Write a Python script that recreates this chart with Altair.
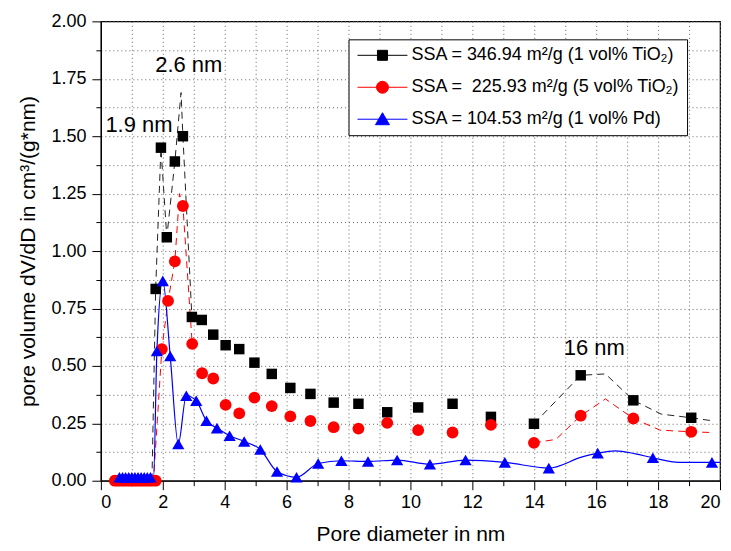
import altair as alt
import pandas as pd

# ---------------- data ----------------
series_names = [
    "SSA = 346.94 m²/g (1 vol% TiO₂)",
    "SSA = \u00a0225.93 m²/g (5 vol% TiO₂)",
    "SSA = 104.53 m²/g (1 vol% Pd)",
]
series_colors = ["#000000", "#ff0000", "#0000ff"]
legend_paths = [
    "M-5,0H5M-1,-1H1V1H-1Z",
    "M-5,0H5M-1.2,0A1.2,1.2,0,1,1,1.2,0A1.2,1.2,0,1,1,-1.2,0Z",
    "M-5,0H5M0,-1.3L1.4,1.1H-1.4Z",
]

# markers
black_x = [0.55, 0.65, 0.75, 0.85, 0.95, 1.05, 1.15, 1.25, 1.35, 1.45, 1.55, 1.65,
           1.77, 1.94, 2.13, 2.39, 2.65, 2.94, 3.26, 3.63, 4.03, 4.47, 4.96, 5.52,
           6.12, 6.77, 7.52, 8.32, 9.25, 10.25, 11.36, 12.6, 13.99, 15.5, 17.2, 19.07]
black_y = [0, 0, 0, 0, 0, 0, 0, 0, 0, 0, 0, 0,
           0.835, 1.45, 1.06, 1.39, 1.50, 0.713, 0.70, 0.636, 0.59, 0.573, 0.514, 0.465,
           0.404, 0.378, 0.34, 0.335, 0.298, 0.319, 0.335, 0.278, 0.248, 0.459, 0.35, 0.274]

red_x = [0.45, 0.55, 0.65, 0.75, 0.85, 0.95, 1.05, 1.15, 1.25, 1.35, 1.45, 1.55, 1.65, 1.77,
         1.97, 2.17, 2.39, 2.65, 2.95, 3.27, 3.63, 4.03, 4.47, 4.96, 5.52, 6.12,
         6.77, 7.52, 8.32, 9.25, 10.25, 11.36, 12.6, 13.99, 15.5, 17.2, 19.07]
red_y = [0, 0, 0, 0, 0, 0, 0, 0, 0, 0, 0, 0, 0, 0,
         0.573, 0.783, 0.955, 1.196, 0.596, 0.468, 0.445, 0.33, 0.293, 0.362, 0.325, 0.28,
         0.26, 0.233, 0.227, 0.252, 0.22, 0.21, 0.243, 0.165, 0.283, 0.271, 0.213]

blue_x = [0.6, 0.7, 0.8, 0.9, 1.0, 1.1, 1.2, 1.3, 1.4, 1.5, 1.6,
          1.81, 2.0, 2.24, 2.5, 2.76, 3.08, 3.41, 3.75, 4.16, 4.63, 5.15, 5.69, 6.32,
          7.02, 7.77, 8.63, 9.57, 10.63, 11.78, 13.05, 14.47, 16.05, 17.83, 19.74]
blue_y = [0.015, 0.015, 0.015, 0.015, 0.015, 0.015, 0.015, 0.015, 0.015, 0.015, 0.015,
          0.565, 0.87, 0.543, 0.16, 0.37, 0.348, 0.261, 0.229, 0.196, 0.171, 0.136, 0.04, 0.015,
          0.075, 0.087, 0.084, 0.09, 0.072, 0.09, 0.08, 0.055, 0.12, 0.1, 0.08]

# lines (visible parts of the dashed curves)
black_line_x = [0.5, 1.65, 1.77, 1.94, 2.13, 2.39, 2.59, 2.65, 2.94,
                13.99, 15.5, 16.3, 17.2, 18.1, 19.07, 19.8]
black_line_y = [0, 0, 0.835, 1.45, 1.06, 1.39, 1.69, 1.50, 0.713,
                0.248, 0.459, 0.465, 0.35, 0.29, 0.274, 0.26]
black_line_seg = [1, 1, 1, 1, 1, 1, 1, 1, 1, 2, 2, 2, 2, 2, 2, 2]

red_line_x = [0.45, 1.7, 1.97, 2.17, 2.39, 2.54, 2.65, 2.95,
              13.99, 14.7, 15.5, 16.3, 17.2, 18.07, 19.07, 19.7]
red_line_y = [0, 0, 0.573, 0.783, 0.955, 1.25, 1.196, 0.596,
              0.165, 0.18, 0.283, 0.356, 0.271, 0.22, 0.213, 0.21]
red_line_seg = [1, 1, 1, 1, 1, 1, 1, 1, 2, 2, 2, 2, 2, 2, 2, 2]

blue_line_x = [0.5, 1.7, 1.81, 2.0, 2.24, 2.5, 2.76, 3.08, 3.41, 3.75, 4.16, 4.63, 5.15,
               5.69, 6.32, 7.02, 7.77, 8.63, 9.57, 10.63, 11.78, 13.05, 14.47, 15.55,
               16.05, 16.62, 17.27, 17.83, 18.67, 19.74, 20.0]
blue_line_y = [0, 0.01, 0.565, 0.87, 0.543, 0.16, 0.37, 0.348, 0.261, 0.229, 0.196, 0.171, 0.136,
               0.04, 0.015, 0.075, 0.087, 0.084, 0.09, 0.072, 0.09, 0.08, 0.055, 0.104,
               0.12, 0.13, 0.117, 0.1, 0.08, 0.08, 0.08]

ann_x = [2.84, 1.23, 15.94]
ann_y = [1.81, 1.55, 0.576]
ann_text = ["2.6 nm", "1.9 nm", "16 nm"]

x_ticks = [0, 1, 2, 3, 4, 5, 6, 7, 8, 9, 10, 11, 12, 13, 14, 15, 16, 17, 18, 19, 20]
y_ticks = [0, 0.125, 0.25, 0.375, 0.5, 0.625, 0.75, 0.875, 1.0, 1.125, 1.25, 1.375,
           1.5, 1.625, 1.75, 1.875, 2.0]

FONT = "Liberation Sans"

# ---------------- encodings ----------------
xenc = alt.X(
    "x:Q",
    scale=alt.Scale(domain=[0, 20], nice=False, zero=False),
    axis=alt.Axis(
        values=x_ticks,
        labelExpr="datum.value % 2 === 0 ? datum.label : ''",
        tickSize={"condition": {"test": "datum.value % 2 === 0", "value": 9}, "value": 5},
        title="Pore diameter in nm",
        titlePadding=12,
        labelPadding=4,
    ),
)
yenc = alt.Y(
    "y:Q",
    scale=alt.Scale(domain=[0, 2], nice=False),
    axis=alt.Axis(
        values=y_ticks,
        format=".2f",
        labelExpr="(datum.value * 4) % 1 === 0 ? datum.label : ''",
        tickSize={"condition": {"test": "(datum.value * 4) % 1 === 0", "value": 9}, "value": 5},
        title="pore volume dV/dD in cm³/(g*nm)",
        titlePadding=12,
        labelPadding=6,
    ),
)

def df_xy(xs, ys, seg=None):
    d = {"x": xs, "y": ys}
    if seg is not None:
        d["seg"] = seg
    return pd.DataFrame(d)

black_line = alt.Chart(df_xy(black_line_x, black_line_y, black_line_seg)).mark_line(
    color="#222222", strokeWidth=1, strokeDash=[7, 5]
).encode(x=xenc, y=yenc, detail="seg:N", order="x:Q")

red_line = alt.Chart(df_xy(red_line_x, red_line_y, red_line_seg)).mark_line(
    color="#ff0000", strokeWidth=1, strokeDash=[7, 5]
).encode(x=xenc, y=yenc, detail="seg:N", order="x:Q")

blue_line = alt.Chart(df_xy(blue_line_x, blue_line_y)).mark_line(
    color="#0000ff", strokeWidth=1.2, interpolate="monotone"
).encode(x=xenc, y=yenc)

black_pts = alt.Chart(df_xy(black_x, black_y)).mark_point(
    shape="square", filled=True, color="#000000", size=110, opacity=1
).encode(x=xenc, y=yenc)
red_pts = alt.Chart(df_xy(red_x, red_y)).mark_point(
    shape="circle", filled=True, color="#ff0000", size=140, opacity=1
).encode(x=xenc, y=yenc)
blue_pts = alt.Chart(df_xy(blue_x, blue_y)).mark_point(
    shape="triangle-up", filled=True, color="#0000ff", size=150, opacity=1
).encode(x=xenc, y=yenc)

ann = alt.Chart(pd.DataFrame({"x": ann_x, "y": ann_y, "t": ann_text})).mark_text(
    font=FONT, fontSize=22, color="black", align="center", baseline="middle"
).encode(x=xenc, y=yenc, text="t:N")

legend_def = alt.Legend(
    title=None,
    orient="none",
    legendX=248,
    legendY=18,
    strokeColor="black",
    fillColor="white",
    padding=7,
    rowPadding=14,
    labelFont=FONT,
    labelFontSize=18,
    labelColor="black",
    symbolSize=100,
    symbolOffset=18,
    labelOffset=20,
    symbolStrokeWidth=1,
    labelLimit=400,
)
leg_df = pd.DataFrame({"series": series_names, "x": [0, 0, 0], "y": [0, 0, 0]})
legend_layer = alt.Chart(leg_df).transform_filter("false").mark_point(
    opacity=1, filled=True
).encode(
    x=xenc,
    y=yenc,
    shape=alt.Shape("series:N", scale=alt.Scale(domain=series_names, range=legend_paths), legend=legend_def),
    fill=alt.Fill("series:N", scale=alt.Scale(domain=series_names, range=series_colors), legend=legend_def),
    stroke=alt.Stroke("series:N", scale=alt.Scale(domain=series_names, range=series_colors), legend=legend_def),
)

chart = alt.layer(
    black_line, red_line, blue_line, black_pts, red_pts, blue_pts, ann, legend_layer
).properties(
    width=620, height=460,
    padding={"left": 9, "top": 4, "right": 0, "bottom": 2},
).configure_view(
    stroke="black", strokeWidth=1.2
).configure_axis(
    labelFont=FONT, titleFont=FONT, labelFontSize=18, titleFontSize=21,
    labelColor="black", titleColor="black", titleFontWeight="normal",
    domainColor="black", tickColor="black", domainWidth=1.2,
    grid=True, gridColor="#666666", gridDash=[1, 3], gridWidth=1,
)

chart.save("out.html", embed_options={"renderer": "svg", "actions": False})
